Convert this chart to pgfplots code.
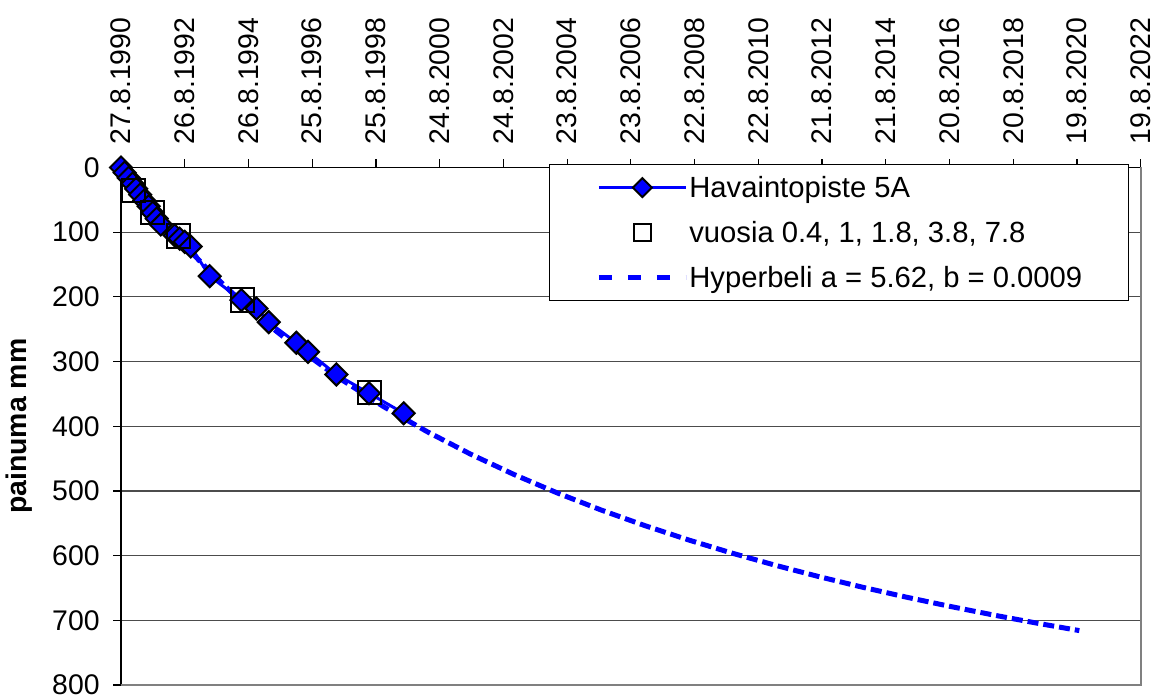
\documentclass[border=0pt]{standalone}
\usepackage{fontspec}
\setmainfont{Liberation Sans}
\usepackage{pgfplots}
\pgfplotsset{compat=1.18}
\begin{document}
\begin{tikzpicture}
\begin{axis}[
  name=ax,
  scale only axis,
  width=509.85pt, height=258.75pt,
  xmin=0, xmax=11680, ymin=0, ymax=800,
  y dir=reverse,
  clip=false,
  scaled x ticks=false, scaled y ticks=false,
  axis x line=top, axis y line=left,
  every outer x axis line/.append style={-},
  every outer y axis line/.append style={-},
  axis line style={black, line width=0.6pt},
  xtick={0,730,1460,2190,2920,3650,4380,5110,5840,6570,7300,8030,8760,9490,10220,10950,11680},
  xticklabels={27.8.1990,26.8.1992,26.8.1994,25.8.1996,25.8.1998,24.8.2000,24.8.2002,23.8.2004,23.8.2006,22.8.2008,22.8.2010,21.8.2012,21.8.2014,20.8.2016,20.8.2018,19.8.2020,19.8.2022},
  ytick={0,100,200,300,400,500,600,700,800},
  tick align=outside,
  major tick length=4pt,
  major tick style={black, line width=0.6pt},
  ymajorgrids,
  grid style={black!70, line width=0.6pt},
  xticklabel shift=7.5pt,
  yticklabel shift=6.5pt,
  xticklabel style={rotate=90, anchor=west, inner sep=0pt, font=\fontsize{14.2}{17}\selectfont},
  yticklabel style={anchor=east, inner sep=0pt, font=\fontsize{14.2}{17}\selectfont},
  /pgf/number format/assume math mode=true,
  ylabel={painuma mm},
  ylabel style={at={(rel axis cs:0,0.5)}, anchor=south, inner sep=0pt, font=\bfseries\fontsize{14.2}{17}\selectfont, yshift=44pt},
  legend cell align=left,
  legend style={at={(0.42,1)}, anchor=north west, yshift=1.6pt, draw=black, line width=0.5pt, fill=white,
    inner xsep=23.3pt, inner ysep=6.15pt, row sep=12pt, column sep=0.5pt,
    font=\fontsize{14.6}{17}\selectfont,
    nodes={inner sep=0pt, text height=10.4pt, text depth=0.1pt}},
  legend image code/.code={
    \path[draw=none, fill=none] (0pt,-5pt) rectangle (43.5pt,5pt);
    \draw[mark repeat=2,mark phase=2,#1] plot coordinates {(0pt,0pt) (21.75pt,0pt) (43.5pt,0pt)};
  },
]
% hyperbola fit (drawn first, below the data)
\addplot[blue, line width=2.5pt, dash pattern=on 5.5pt off 2.5pt, forget plot] table {
t y
0 0
100 18.15
200 36.36
300 52.72
400 69.19
550 92.96
700 115.66
850 137.37
1000 158.15
1250 190.88
1500 221.42
1750 249.99
2000 276.78
2500 325.63
3000 369.05
3500 407.90
4000 442.87
4500 474.51
5000 503.27
5500 529.53
6000 553.61
6500 575.76
7000 596.20
7500 615.13
8000 632.71
8500 649.08
9000 664.35
9500 678.64
10000 692.04
10500 704.63
10977 715.94
};
% measurements
\addplot[blue, line width=1.5pt, mark=square*, mark size=3.9pt,
  mark options={rotate=45, fill=blue, draw=black, line width=1pt, solid},
  legend image post style={mark size=3.35pt}] table {
t y
0 0
42 8
88 16
134 25
174 33
220 42
266 51
317 60
363 70
409 79
455 88
615 105
672 110
730 115
798 122
1016 168
1379 205
1551 218
1692 239
2009 271
2142 285
2467 320
2841 349
3238 380
};
\addlegendentry{Havaintopiste 5A}
% chosen years
\addplot[only marks, mark=square, mark size=5.8pt, mark options={draw=black, line width=1pt},
  legend image post style={mark size=4.2pt}] table {
t y
146 36
365 70
660 106
1388 205
2849 348
};
\addlegendentry{vuosia 0.4, 1, 1.8, 3.8, 7.8}
\addlegendimage{blue, line width=2.5pt, dash pattern=on 6.5pt off 8pt}
\addlegendentry{Hyperbeli a = 5.62, b = 0.0009}
\draw[black!50, line width=1pt] (axis cs:11680,0) -- (axis cs:11680,800) -- (axis cs:0,800);
\end{axis}
\path ([xshift=-60.5pt,yshift=-7pt]ax.south west) rectangle ([xshift=10.65pt,yshift=83.75pt]ax.north east);
\end{tikzpicture}
\end{document}
